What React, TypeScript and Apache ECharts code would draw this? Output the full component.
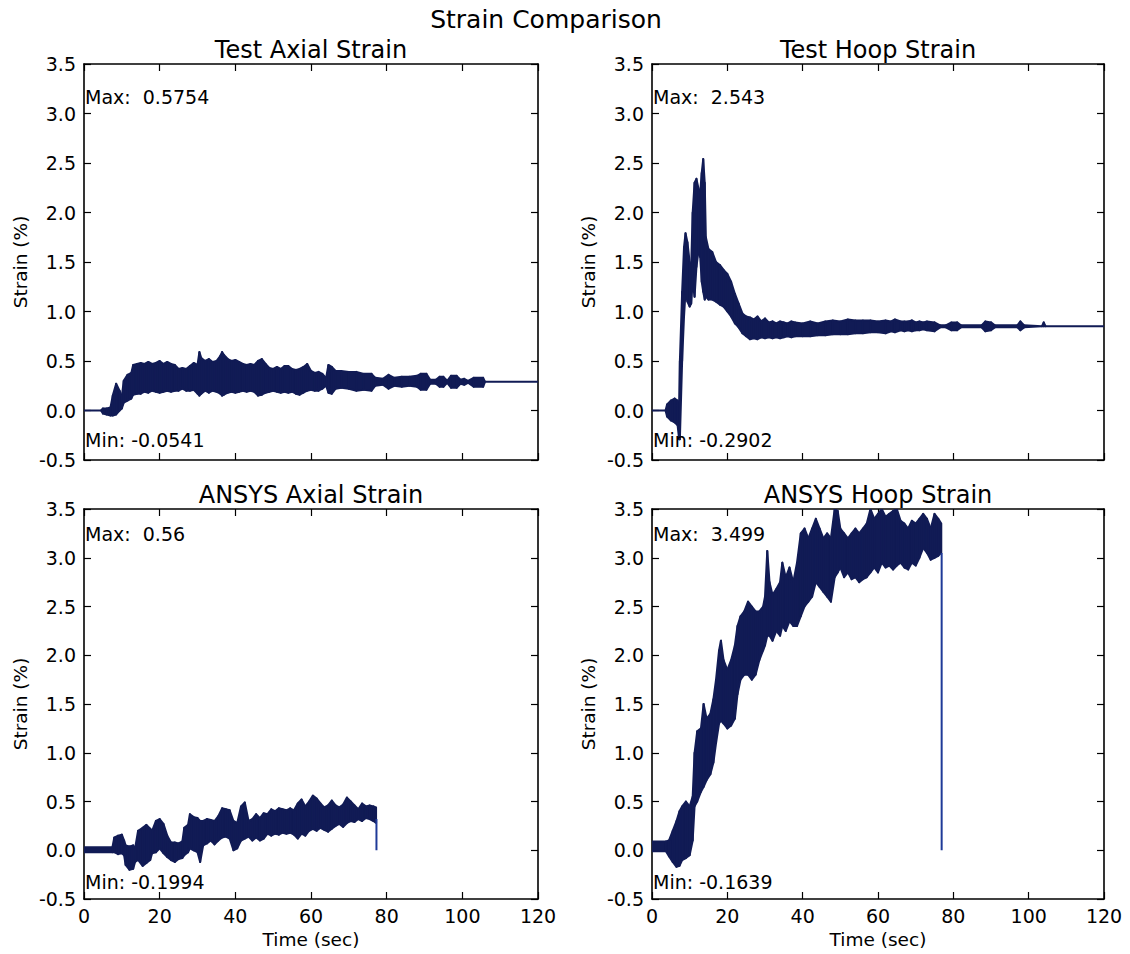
import React, { useEffect, useRef } from "react";
import * as echarts from "echarts";

// ---------- Data (lower / upper envelope of the noisy traces) ----------
const testAxialT = [0, 4.5, 5, 6, 7, 7.6, 8.5, 9.4, 10, 10.5, 11.5, 12.5, 13, 14, 15, 16, 17, 18, 19, 20, 21, 22, 23, 24, 25, 26, 27, 28, 29, 30, 30.5, 31, 32, 33, 34, 35, 36, 36.5, 37, 38, 39, 40, 41, 42, 43, 44, 45, 46, 47, 48, 49, 50, 51, 52, 53, 54, 55, 56, 57, 58, 59, 60, 61, 62, 63, 64, 64.6, 65.5, 66.5, 68, 70, 72, 74, 76, 77, 79, 80.5, 82, 84, 86, 88, 89, 90.5, 91.5, 93, 94, 95, 96, 97, 98.5, 99.5, 100.5, 101.5, 103, 105.5, 106, 120];
const testAxialLo = [0, 0, -0.03, -0.04, -0.05, -0.05, -0.04, 0.0, 0.02, 0.08, 0.1, 0.12, 0.16, 0.17, 0.17, 0.19, 0.18, 0.2, 0.19, 0.18, 0.19, 0.2, 0.19, 0.2, 0.2, 0.22, 0.2, 0.2, 0.21, 0.17, 0.15, 0.17, 0.2, 0.18, 0.2, 0.19, 0.17, 0.15, 0.16, 0.18, 0.19, 0.18, 0.19, 0.2, 0.19, 0.2, 0.19, 0.15, 0.16, 0.18, 0.19, 0.2, 0.19, 0.18, 0.19, 0.18, 0.19, 0.17, 0.16, 0.18, 0.2, 0.21, 0.2, 0.2, 0.22, 0.25, 0.18, 0.17, 0.22, 0.23, 0.22, 0.2, 0.21, 0.2, 0.25, 0.26, 0.22, 0.25, 0.24, 0.25, 0.24, 0.21, 0.21, 0.27, 0.27, 0.24, 0.24, 0.28, 0.23, 0.23, 0.27, 0.26, 0.28, 0.24, 0.24, 0.29, 0.29];
const testAxialHi = [0, 0, 0.02, 0.02, 0.03, 0.15, 0.27, 0.2, 0.14, 0.3, 0.36, 0.38, 0.46, 0.47, 0.48, 0.47, 0.49, 0.47, 0.48, 0.5, 0.47, 0.49, 0.47, 0.46, 0.42, 0.43, 0.42, 0.45, 0.48, 0.46, 0.59, 0.53, 0.5, 0.52, 0.49, 0.5, 0.55, 0.59, 0.56, 0.52, 0.5, 0.51, 0.49, 0.47, 0.46, 0.47, 0.46, 0.5, 0.52, 0.47, 0.43, 0.42, 0.44, 0.42, 0.45, 0.45, 0.42, 0.41, 0.42, 0.44, 0.47, 0.4, 0.38, 0.39, 0.37, 0.33, 0.46, 0.44, 0.4, 0.4, 0.39, 0.39, 0.37, 0.37, 0.33, 0.32, 0.36, 0.33, 0.34, 0.34, 0.35, 0.37, 0.37, 0.31, 0.31, 0.34, 0.34, 0.3, 0.35, 0.35, 0.31, 0.32, 0.3, 0.33, 0.33, 0.29, 0.29];

const testHoopT = [0, 3.6, 4, 5, 6, 6.8, 7.2, 7.4, 8, 8.5, 8.9, 9.4, 10, 10.4, 10.8, 11.3, 11.8, 12.3, 12.8, 13.2, 13.6, 14, 14.3, 15, 16, 17, 18, 19, 20, 21, 22, 23, 24, 25, 26, 27, 28, 29, 30, 31, 32, 33, 34, 35, 36, 37, 38, 40, 42, 44, 46, 48, 50, 52, 54, 56, 58, 60, 62, 63.5, 64.5, 66, 67, 68, 69, 70, 71, 72, 73, 75, 76.5, 78, 79.5, 81, 82, 87.5, 88.5, 90, 91, 97, 97.8, 98.8, 103.5, 104, 104.5, 120];
const testHoopLo = [0, 0, -0.06, -0.1, -0.12, -0.15, -0.29, -0.29, 0.5, 0.95, 1.2, 1.1, 1.05, 1.08, 1.3, 1.15, 1.45, 1.6, 1.55, 1.3, 1.2, 1.12, 1.15, 1.12, 1.12, 1.1, 1.07, 1.05, 1.0, 0.95, 0.88, 0.84, 0.78, 0.75, 0.72, 0.73, 0.72, 0.74, 0.73, 0.74, 0.73, 0.74, 0.73, 0.74, 0.75, 0.74, 0.75, 0.75, 0.75, 0.76, 0.76, 0.77, 0.77, 0.77, 0.78, 0.78, 0.79, 0.79, 0.78, 0.8, 0.79, 0.81, 0.8, 0.81, 0.8, 0.81, 0.81, 0.82, 0.81, 0.8, 0.84, 0.84, 0.81, 0.81, 0.84, 0.84, 0.8, 0.81, 0.84, 0.84, 0.81, 0.84, 0.85, 0.85, 0.85, 0.85];
const testHoopHi = [0, 0, 0.06, 0.1, 0.12, 0.1, 0.05, 0.5, 1.2, 1.65, 1.79, 1.7, 1.5, 1.45, 2.0, 2.3, 2.34, 2.25, 2.2, 2.4, 2.54, 2.3, 1.75, 1.63, 1.6, 1.5, 1.47, 1.42, 1.38, 1.3, 1.18, 1.08, 0.98, 0.95, 0.94, 0.92, 0.95, 0.9, 0.93, 0.89, 0.9, 0.88, 0.9, 0.89, 0.88, 0.9, 0.89, 0.88, 0.9, 0.88, 0.9, 0.91, 0.9, 0.92, 0.91, 0.91, 0.91, 0.9, 0.91, 0.9, 0.92, 0.9, 0.9, 0.9, 0.91, 0.89, 0.9, 0.89, 0.9, 0.89, 0.86, 0.86, 0.89, 0.89, 0.86, 0.86, 0.9, 0.89, 0.86, 0.86, 0.9, 0.86, 0.85, 0.89, 0.85, 0.85];

const ansysAxialT = [0, 7.5, 8, 9, 10, 10.6, 11, 12, 13, 13.5, 14.3, 15.5, 16.5, 17.5, 18, 19, 20, 21, 22, 23, 24, 25, 26, 26.5, 27.5, 28, 29, 30, 30.7, 31.5, 32.5, 33.5, 34.5, 35.5, 36.5, 37.5, 38.5, 39.5, 40.5, 41.5, 42.5, 43.5, 44.5, 45.5, 46.5, 47.5, 48.5, 49.5, 50.5, 51.5, 52.5, 53.5, 54.5, 55.5, 56.5, 57.5, 58.5, 59.5, 60.5, 61.5, 62.5, 63.5, 64.5, 65.5, 66.5, 67.5, 68.5, 69.5, 70.5, 71.5, 72.5, 73.5, 74.5, 75.5, 76.5, 77.2];
const ansysAxialLo = [-0.02, -0.02, -0.02, -0.04, -0.03, -0.05, -0.15, -0.2, -0.19, -0.12, -0.1, -0.16, -0.13, -0.1, -0.03, -0.02, 0.02, -0.03, -0.07, -0.1, -0.12, -0.09, -0.08, -0.05, -0.02, 0.02, 0.0, -0.02, -0.12, 0.05, 0.07, 0.1, 0.06, 0.1, 0.13, 0.14, 0.12, 0.0, 0.02, 0.1, 0.12, 0.14, 0.1, 0.13, 0.1, 0.12, 0.17, 0.15, 0.17, 0.16, 0.18, 0.17, 0.18, 0.16, 0.12, 0.17, 0.15, 0.2, 0.22, 0.2, 0.23, 0.21, 0.19, 0.22, 0.25, 0.27, 0.24, 0.28, 0.3, 0.29, 0.32, 0.3, 0.33, 0.32, 0.3, 0.28];
const ansysAxialHi = [0.03, 0.03, 0.13, 0.15, 0.16, 0.1, 0.05, 0.04, 0.05, 0.02, 0.2, 0.23, 0.26, 0.22, 0.2, 0.3, 0.32, 0.27, 0.15, 0.08, 0.08, 0.07, 0.09, 0.23, 0.26, 0.37, 0.34, 0.33, 0.3, 0.3, 0.32, 0.31, 0.3, 0.35, 0.43, 0.42, 0.41, 0.3, 0.28, 0.45, 0.49, 0.3, 0.32, 0.37, 0.33, 0.38, 0.37, 0.42, 0.4, 0.43, 0.42, 0.41, 0.43, 0.41, 0.48, 0.52, 0.45, 0.5, 0.56, 0.53, 0.48, 0.44, 0.46, 0.51, 0.46, 0.44, 0.47, 0.54, 0.5, 0.46, 0.42, 0.48, 0.45, 0.46, 0.45, 0.44];
const ansysAxialDropT = [77.3, 77.3];
const ansysAxialDropV = [0.32, 0.0];

const ansysHoopT = [0, 3.7, 4.5, 5.5, 6.5, 7.3, 8, 9, 10, 10.8, 11.3, 12, 13, 13.7, 14.5, 15.5, 16.3, 17, 17.8, 18.3, 19, 20, 21, 22, 22.7, 23.5, 24.5, 25.5, 26.5, 27.5, 28.5, 29.5, 30, 30.6, 31.2, 32, 33, 34, 34.6, 35.5, 36.5, 37.5, 38.5, 39.5, 40.5, 41.5, 42.5, 43.5, 44.5, 45.5, 46.5, 47.5, 48.5, 49.3, 50, 51, 52, 53, 54, 55, 56, 57, 58, 59, 60, 61, 62, 63, 64, 65, 66, 67, 68, 69, 70, 71, 72, 73, 74, 75, 76, 76.8];
const ansysHoopLo = [-0.01, -0.01, -0.06, -0.12, -0.17, -0.16, -0.1, -0.08, -0.05, 0.1, 0.45, 0.5, 0.6, 0.65, 0.72, 0.78, 0.9, 1.1, 1.3, 1.33, 1.3, 1.25, 1.28, 1.35, 1.6, 1.75, 1.8, 1.8, 1.75, 1.8, 1.95, 2.05, 2.1, 2.2, 2.2, 2.15, 2.25, 2.2, 2.3, 2.25, 2.35, 2.3, 2.3, 2.4, 2.5, 2.55, 2.6, 2.75, 2.7, 2.65, 2.6, 2.55, 2.8, 2.85, 2.9, 2.8, 2.85, 2.78, 2.8, 2.75, 2.78, 2.8, 2.85, 2.9, 2.85, 2.95, 2.9, 2.92, 2.88, 2.92, 2.95, 2.9, 2.88, 2.95, 2.92, 3.0, 3.1, 3.05, 2.98, 3.0, 3.02, 3.05];
const ansysHoopHi = [0.09, 0.09, 0.1, 0.2, 0.3, 0.4, 0.45, 0.5, 0.45, 0.55, 1.0, 1.22, 1.25, 1.5, 1.35, 1.4, 1.55, 1.75, 2.05, 2.15, 1.95, 1.85, 1.95, 2.1, 2.3, 2.4, 2.45, 2.55, 2.5, 2.45, 2.45, 2.5, 2.6, 3.07, 2.75, 2.62, 2.68, 2.75, 2.95, 2.8, 2.9, 2.75, 2.95, 3.25, 3.3, 3.2, 3.3, 3.4, 3.3, 3.2, 3.25, 3.2, 3.5, 3.48, 3.3, 3.25, 3.2, 3.25, 3.3, 3.25, 3.3, 3.35, 3.5, 3.4, 3.45, 3.5, 3.42, 3.45, 3.48, 3.5, 3.38, 3.35, 3.3, 3.38, 3.35, 3.4, 3.45, 3.4, 3.3, 3.45, 3.4, 3.35];
const ansysHoopDropT = [76.9, 76.9];
const ansysHoopDropV = [3.05, 0.0];

const panelTitles = ["Test Axial Strain", "Test Hoop Strain", "ANSYS Axial Strain", "ANSYS Hoop Strain"];
const maxLabels = ["0.5754", "2.543", "0.56", "3.499"];
const minLabels = ["-0.0541", "-0.2902", "-0.1994", "-0.1639"];
const suptitle = "Strain Comparison";
const yAxisName = "Strain (%)";
const xAxisName = "Time (sec)";

const X_MIN = 0, X_MAX = 120, X_STEP = 20;
const Y_MIN = -0.5, Y_MAX = 3.5, Y_STEP = 0.5;

// ---------- Layout ----------
const GRIDS = [
  { left: 84, top: 64, width: 454, height: 396 },
  { left: 652, top: 64, width: 452, height: 396 },
  { left: 84, top: 509, width: 454, height: 390 },
  { left: 652, top: 509, width: 452, height: 390 },
];
const FONT = "DejaVu Sans";
const BAND = "#111b55";
const DROP = "#1f3a98";

export default function App() {
  const ref = useRef<HTMLDivElement>(null);
  useEffect(() => {
    if (!ref.current) return;
    const chart = echarts.init(ref.current, undefined, { renderer: "svg" });

    const xAxes: any[] = [];
    const yAxes: any[] = [];
    GRIDS.forEach((g, gi) => {
      const bottomRow = gi >= 2;
      const baseX = {
        type: "value", gridIndex: gi, min: X_MIN, max: X_MAX, interval: X_STEP,
        splitLine: { show: false },
        axisLine: { show: true, onZero: false, lineStyle: { color: "#000", width: 1.6 } },
        axisTick: { show: true, inside: true, length: 7, lineStyle: { color: "#000", width: 1.2 } },
      };
      xAxes.push({
        ...baseX, position: "bottom",
        axisLabel: { show: bottomRow, color: "#000", fontSize: 19, fontFamily: FONT, margin: 7 },
      });
      xAxes.push({ ...baseX, position: "top", axisLabel: { show: false } });
      const baseY = {
        type: "value", gridIndex: gi, min: Y_MIN, max: Y_MAX, interval: Y_STEP,
        splitLine: { show: false },
        axisLine: { show: true, onZero: false, lineStyle: { color: "#000", width: 1.6 } },
        axisTick: { show: true, inside: true, length: 7, lineStyle: { color: "#000", width: 1.2 } },
      };
      yAxes.push({
        ...baseY, position: "left",
        axisLabel: { show: true, color: "#000", fontSize: 19, fontFamily: FONT, margin: 8, formatter: (v: number) => v.toFixed(1) },
      });
      yAxes.push({ ...baseY, position: "right", axisLabel: { show: false } });
    });

    const bands = [
      [testAxialT, testAxialLo, testAxialHi],
      [testHoopT, testHoopLo, testHoopHi],
      [ansysAxialT, ansysAxialLo, ansysAxialHi],
      [ansysHoopT, ansysHoopLo, ansysHoopHi],
    ];
    const series: any[] = [];
    bands.forEach(([T, lo, hi], gi) => {
      const data = T.map((t, i) => [t, lo[i], hi[i]]);
      series.push({
        type: "custom", xAxisIndex: gi * 2, yAxisIndex: gi * 2, data, clip: true, silent: true, z: 3,
        encode: { x: 0, y: [1, 2] },
        renderItem: (params: any, api: any) => {
          const i = params.dataIndex;
          if (i >= data.length - 1) return null;
          const a = data[i], b = data[i + 1];
          const pts = [
            api.coord([a[0], a[1]]),
            api.coord([b[0], b[1]]),
            api.coord([b[0], b[2]]),
            api.coord([a[0], a[2]]),
          ];
          return {
            type: "polygon",
            shape: { points: pts },
            style: { fill: BAND, stroke: BAND, lineWidth: 2, lineJoin: "round" },
          };
        },
      });
    });
    const drops = [
      [2, ansysAxialDropT, ansysAxialDropV],
      [3, ansysHoopDropT, ansysHoopDropV],
    ] as const;
    drops.forEach(([gi, T, V]) => {
      series.push({
        type: "line", xAxisIndex: gi * 2, yAxisIndex: gi * 2,
        data: (T as number[]).map((t, i) => [t, (V as number[])[i]]),
        symbol: "none", silent: true, lineStyle: { color: DROP, width: 2 }, z: 3,
      });
    });

    const txt = (x: number, y: number, text: string, size: number, align = "center", vAlign = "middle", rotation = 0) => ({
      type: "text", x, y, rotation, silent: true, z: 100,
      style: { text, fill: "#000", fontSize: size, fontFamily: FONT, align, verticalAlign: vAlign },
    });
    const graphic: any[] = [txt(546, 19, suptitle, 25)];
    GRIDS.forEach((g, gi) => {
      const cx = g.left + g.width / 2;
      graphic.push(txt(cx, g.top - 2, panelTitles[gi], 24, "center", "bottom"));
      const maxY = gi < 2 ? 97 : 534;
      const minY = gi < 2 ? 440 : 882;
      graphic.push(txt(g.left + 1, maxY, "Max:\u00a0\u00a0" + maxLabels[gi], 19, "left", "middle"));
      graphic.push(txt(g.left + 1, minY, "Min: " + minLabels[gi], 19, "left", "middle"));
      graphic.push(txt(g.left - 64, g.top + g.height / 2, yAxisName, 18.5, "center", "middle", Math.PI / 2));
      if (gi >= 2) graphic.push(txt(cx, 939, xAxisName, 18.5, "center", "middle"));
    });

    chart.setOption({
      animation: false,
      backgroundColor: "#fff",
      grid: GRIDS.map((g) => ({ ...g, containLabel: false, show: false })),
      xAxis: xAxes,
      yAxis: yAxes,
      series,
      graphic,
    });
    return () => chart.dispose();
  }, []);
  return <div ref={ref} style={{ position: "fixed", left: 0, top: 0, width: 1130, height: 954, background: "#fff" }} />;
}
